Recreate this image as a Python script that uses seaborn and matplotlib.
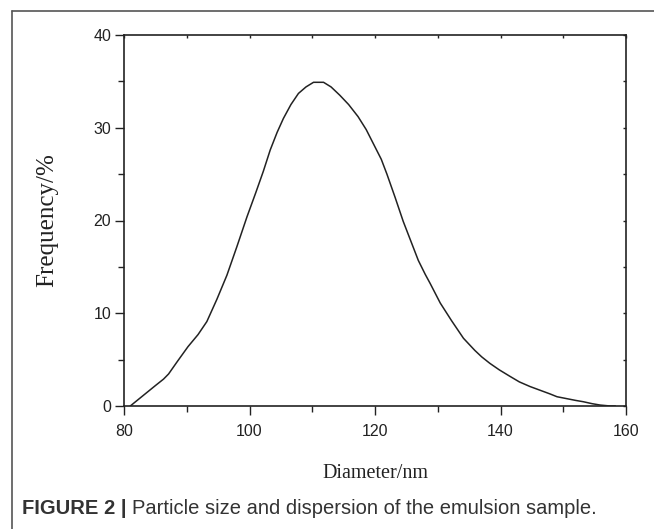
import matplotlib
matplotlib.use("Agg")
import matplotlib.pyplot as plt
from matplotlib.lines import Line2D
from matplotlib.ticker import MultipleLocator
import pandas as pd
import seaborn as sns

# Particle size distribution
diameter = [81.0, 83.0, 85.0, 86.3, 87.1, 88.5, 90.2, 91.8, 93.2, 94.8, 96.4, 98.0,
            99.6, 101.0, 102.2, 103.3, 104.4, 105.4, 106.6, 107.8, 109.0, 110.2,
            111.8, 113.0, 114.4, 115.8, 117.3, 118.6, 119.8, 121.0, 121.9, 123.2,
            124.5, 125.7, 126.9, 128.0, 128.8, 130.4, 132.2, 134.1, 135.9, 137.0,
            138.3, 139.8, 141.5, 143.0, 144.7, 146.3, 147.9, 149.0, 150.5, 152.0,
            153.2, 154.6, 155.9, 157.5, 158.3]
frequency = [0.0, 1.1, 2.2, 2.9, 3.45, 4.8, 6.4, 7.7, 9.1, 11.5, 14.1, 17.2,
             20.4, 23.0, 25.3, 27.6, 29.5, 31.0, 32.5, 33.7, 34.4, 34.9,
             34.9, 34.4, 33.5, 32.5, 31.2, 29.8, 28.2, 26.6, 25.0, 22.5,
             19.9, 17.8, 15.7, 14.2, 13.2, 11.1, 9.2, 7.3, 6.0, 5.3,
             4.6, 3.9, 3.2, 2.6, 2.1, 1.7, 1.3, 1.0, 0.8, 0.6,
             0.46, 0.25, 0.1, 0.0, 0.0]

x_ticks = [80, 100, 120, 140, 160]
y_ticks = [0, 10, 20, 30, 40]

df = pd.DataFrame({"Diameter": diameter, "Frequency": frequency})

sns.set_style("ticks")
plt.rcParams["font.family"] = ["Liberation Sans", "DejaVu Sans"]

fig = plt.figure(figsize=(6.54, 5.29), dpi=100)
ax = fig.add_axes([124 / 654, 1 - 406 / 529, 502 / 654, 371 / 529])

sns.lineplot(data=df, x="Diameter", y="Frequency", ax=ax, color="#222222",
             linewidth=1.1, estimator=None, sort=False)

ax.set_xlim(80, 160)
ax.set_ylim(0, 40)
ax.set_xticks(x_ticks)
ax.set_yticks(y_ticks)
ax.xaxis.set_minor_locator(MultipleLocator(10))
ax.yaxis.set_minor_locator(MultipleLocator(5))

for side in ["top", "right", "left", "bottom"]:
    ax.spines[side].set_visible(True)
    ax.spines[side].set_linewidth(1.2)
    ax.spines[side].set_color("#222222")

ax.tick_params(which="major", direction="out", length=6.3, width=1.0,
               labelsize=11.5, color="#222222", labelcolor="#222222")
ax.tick_params(which="minor", direction="out", length=4, width=1.0, color="#222222")
ax.tick_params(axis="x", which="major", pad=6.5)
ax.tick_params(axis="y", which="major", pad=3)
ax.tick_params(which="both", top=True, right=True, labeltop=False, labelright=False)
# faint inward marks on top/right like the original export
for t in ax.xaxis.get_major_ticks() + ax.xaxis.get_minor_ticks():
    t.tick2line.set_marker(3)
    t.tick2line.set_markersize(2)
    t.tick2line.set_color("#bbbbbb")
for t in ax.yaxis.get_major_ticks() + ax.yaxis.get_minor_ticks():
    t.tick2line.set_marker(0)
    t.tick2line.set_markersize(2)
    t.tick2line.set_color("#bbbbbb")

ax.set_xlabel("Diameter/nm", family=["Liberation Serif"], fontsize=14.5,
              color="#222222", labelpad=18)
ax.set_ylabel("Frequency/%", family=["Liberation Serif"], fontsize=18,
              color="#222222", va="center")
ax.yaxis.set_label_coords(-0.153, 0.5)

# outer frame of the figure panel (left and top edges)
frame_kw = dict(transform=fig.transFigure, color="#555555", linewidth=1.2)
fig.add_artist(Line2D([12 / 654, 12 / 654], [0, 1 - 11 / 529], **frame_kw))
fig.add_artist(Line2D([12 / 654, 1], [1 - 11 / 529, 1 - 11 / 529], **frame_kw))

# caption: bold prefix, regular text placed right after it
cap_y = 1 - 508 / 529
head = fig.text(22 / 654, cap_y, "FIGURE 2 |", fontsize=14.5, fontweight="bold",
                color="#333333", va="center", ha="left")
renderer = fig.canvas.get_renderer()
bb = head.get_window_extent(renderer=renderer)
fig.text((bb.x1 + 5) / 654, cap_y, "Particle size and dispersion of the emulsion sample.",
         fontsize=14.5, color="#333333", va="center", ha="left")

fig.savefig("out.png", dpi=100)
